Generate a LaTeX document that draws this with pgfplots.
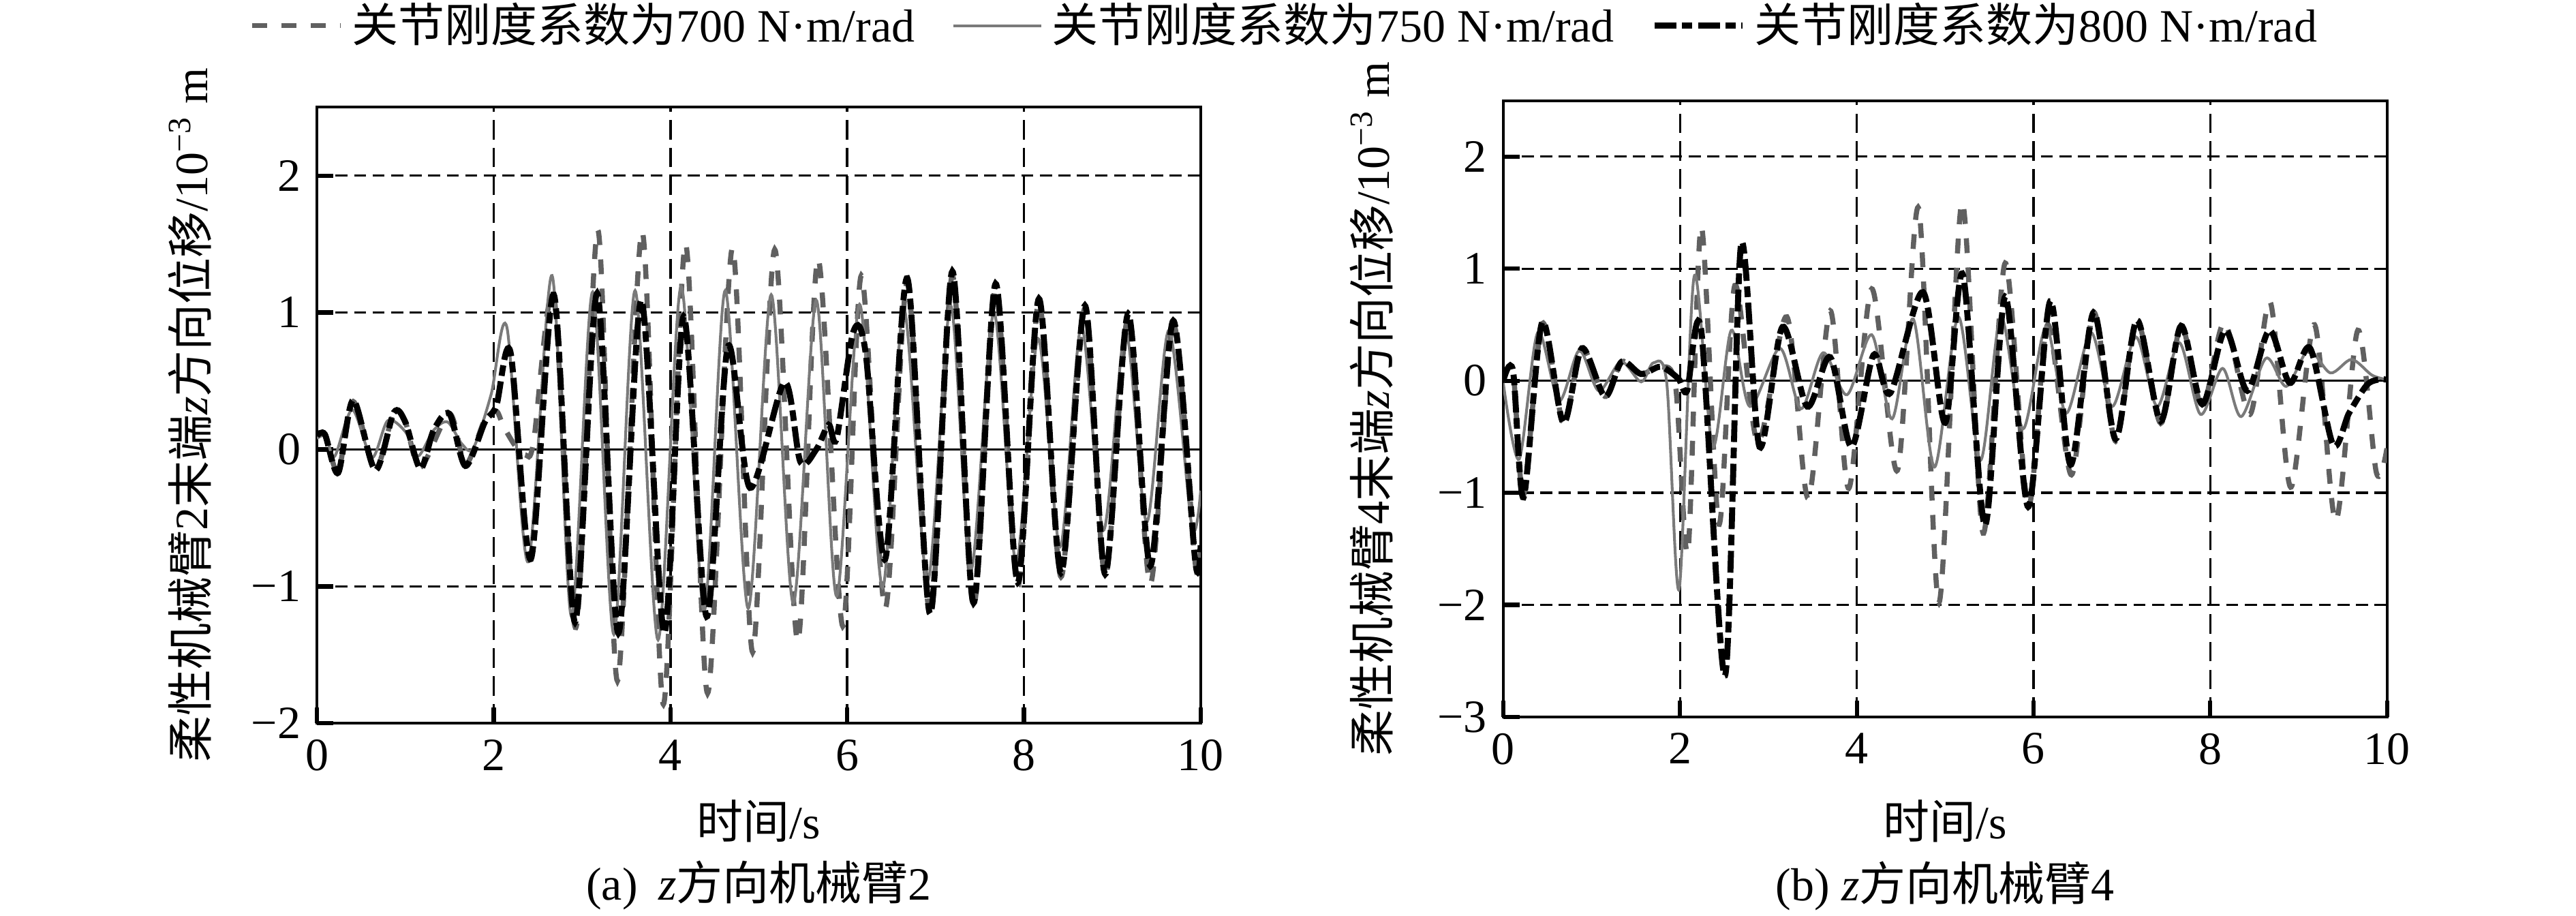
\documentclass[border=0pt]{standalone}
\usepackage{fontspec}
\setmainfont{Liberation Serif}
\newfontfamily\cjk{Noto Sans CJK SC}
\newcommand{\cj}[1]{{\cjk #1}}
\usepackage{pgfplots}
\pgfplotsset{compat=1.18}

\definecolor{gA}{HTML}{606060}
\definecolor{gB}{HTML}{7A7A7A}

\pgfplotsset{
 myaxis/.style={
  scale only axis, width=190.7pt, height=133pt,
  xmin=0, xmax=10, ymax=2.5,
  xtick={0,2,4,6,8,10},
  grid=major,
  x grid style={black, line width=0.5pt, dash pattern=on 4.2pt off 1.8pt},
  y grid style={black, line width=0.5pt, dash pattern=on 2.6pt off 1.4pt},
  x axis line style={line width=0.9pt},
  y axis line style={line width=0.6pt},
  tick style={black, line width=0.9pt},
  major tick length=3.5pt,
  tick align=inside, tick pos=left,
  /pgf/number format/assume math mode=true,
  label style={font=\fontsize{10}{12}\selectfont},
  ticklabel style={font=\fontsize{10}{12}\selectfont},
  xlabel={\cj{时间}/s},
  clip mode=individual,
 },
 s700/.style={gA, line width=1.1pt, dash pattern=on 3.2pt off 3.1pt, smooth},
 s750/.style={gB, line width=0.6pt, smooth},
 s800/.style={black, line width=1.3pt, dash pattern=on 4.7pt off 1.2pt on 2.3pt off 1.2pt, smooth},
}

\begin{document}
\begin{tikzpicture}
\path[use as bounding box] (0,0) rectangle (555.9pt,197.6pt);

% ---------------- (a) ----------------
\begin{axis}[myaxis,
  at={(68.4pt,41.5pt)}, anchor=south west,
  ymin=-2,
  ytick={-2,-1,0,1,2}, yticklabels={−2,−1,0,1,2},
  ylabel={\cj{柔性机械臂}2\cj{末端}\textit{z}\cj{方向位移}/10\textsuperscript{−3} m},
  ylabel style={at={(axis description cs:-0.144,0.5)}, anchor=center},
  xlabel style={at={(axis description cs:0.5,-0.159)}, anchor=center},
  legend columns=3,
  legend style={at={(1.099,1.132)}, anchor=center, draw=none, fill=none,
    font=\fontsize{10}{12}\selectfont,
    /tikz/every even column/.append style={column sep=6pt}},
  legend image code/.code={\draw[#1] (0pt,0pt) -- (19pt,0pt);},
]
\addplot[black, line width=0.5pt, forget plot] coordinates {(0,0) (10,0)};

\addplot[s700] coordinates {
(0,0.10) (0.09,0.11) (0.24,-0.16) (0.41,0.35) (0.66,-0.14) (0.87,0.27) (1.0,0.2)
(1.17,-0.13) (1.50,0.26) (1.68,-0.11) (1.90,0.22) (2.03,0.28) (2.11,0.17) (2.25,0.02)
(2.36,-0.04) (2.45,0.05) (2.68,1.12) (2.93,-1.30) (3.18,1.60) (3.40,-1.69) (3.68,1.59)
(3.92,-1.86) (4.17,1.50) (4.42,-1.78) (4.70,1.47) (4.93,-1.48) (5.18,1.46) (5.44,-1.40)
(5.67,1.39) (5.95,-1.29) (6.16,1.27) (6.43,-1.16) (6.68,1.22) (6.94,-1.22) (7.19,1.27)
(7.43,-1.15) (7.68,1.18) (7.93,-1.0) (8.17,1.08) (8.42,-0.93) (8.69,1.03) (8.92,-0.93)
(9.18,0.97) (9.43,-0.98) (9.69,0.92) (9.94,-0.84) (10,-0.72)};
\addlegendentry{\cj{关节刚度系数为}700 N·m/rad}

\addplot[s750] coordinates {
(0,0.08) (0.10,0.10) (0.20,-0.05) (0.40,0.29) (0.62,-0.06) (0.80,0.21) (1.00,0.13)
(1.14,-0.05) (1.32,0.14) (1.48,0.20) (1.64,0.04) (1.77,0.01) (1.97,0.40) (2.15,0.89)
(2.39,-0.82) (2.66,1.27) (2.88,-1.22) (3.12,1.15) (3.36,-1.35) (3.60,1.16) (3.86,-1.39)
(4.12,1.19) (4.38,-1.18) (4.62,1.16) (4.88,-1.16) (5.14,1.13) (5.39,-1.12) (5.65,1.09)
(5.88,-1.07) (6.14,1.06) (6.40,-1.01) (6.64,1.03) (6.91,-0.96) (7.17,1.05) (7.40,-0.88)
(7.66,1.00) (7.91,-0.82) (8.16,0.81) (8.41,-0.71) (8.65,0.90) (8.90,-0.59) (9.15,0.87)
(9.39,-0.53) (9.64,0.87) (9.90,-0.56) (10,-0.3)};
\addlegendentry{\cj{关节刚度系数为}750 N·m/rad}

\addplot[s800] coordinates {
(0,0.10) (0.09,0.11) (0.24,-0.17) (0.41,0.36) (0.66,-0.15) (0.87,0.27) (1.0,0.2)
(1.17,-0.14) (1.32,0.14) (1.50,0.26) (1.68,-0.12) (1.90,0.20) (2.03,0.32) (2.19,0.71)
(2.42,-0.80) (2.68,1.13) (2.92,-1.26) (3.17,1.14) (3.41,-1.34) (3.67,1.09) (3.93,-1.34)
(4.15,0.97) (4.41,-1.22) (4.65,0.75) (4.90,-0.28) (5.29,0.49) (5.47,-0.09) (5.65,0.0)
(5.79,0.18) (5.88,0.08) (6.07,0.86) (6.21,0.70) (6.43,-0.80) (6.68,1.25) (6.94,-1.20)
(7.19,1.30) (7.43,-1.12) (7.68,1.21) (7.93,-0.97) (8.17,1.10) (8.42,-0.90) (8.69,1.05)
(8.92,-0.91) (9.18,0.99) (9.43,-0.85) (9.69,0.94) (9.94,-0.82) (10,-0.70)};
\addlegendentry{\cj{关节刚度系数为}800 N·m/rad}

\node[font=\fontsize{10}{12}\selectfont, anchor=center, inner sep=0pt] at (axis description cs:0.5,-0.263) {(a)\hspace{0.45em}\textit{z}\cj{方向机械臂}2};
\end{axis}

% ---------------- (b) ----------------
\begin{axis}[myaxis,
  at={(324.4pt,42.9pt)}, anchor=south west,
  ymin=-3,
  ytick={-3,-2,-1,0,1,2}, yticklabels={−3,−2,−1,0,1,2},
  ylabel={\cj{柔性机械臂}4\cj{末端}\textit{z}\cj{方向位移}/10\textsuperscript{−3} m},
  ylabel style={at={(axis description cs:-0.149,0.5)}, anchor=center},
  xlabel style={at={(axis description cs:0.5,-0.169)}, anchor=center},
]
\addplot[black, line width=0.5pt, forget plot] coordinates {(0,0) (10,0)};

\addplot[s700] coordinates {
(0,0) (0.11,0.09) (0.23,-1.02) (0.44,0.51) (0.68,-0.37) (0.89,0.29) (1.15,-0.14)
(1.34,0.17) (1.56,0.06) (1.78,0.125) (1.95,-0.05) (2.09,-1.52) (2.24,1.375) (2.44,-1.28)
(2.62,0.85) (2.88,-0.55) (3.21,0.57) (3.45,-1.05) (3.70,0.625) (3.91,-0.96) (4.17,0.82)
(4.46,-0.80) (4.70,1.54) (4.93,-1.98) (5.19,1.59) (5.43,-1.36) (5.68,1.05) (5.94,-1.12)
(6.16,0.50) (6.43,-0.84) (6.68,0.61) (6.93,-0.54) (7.17,0.54) (7.44,-0.38) (7.67,0.49)
(7.91,-0.23) (8.16,0.52) (8.45,-0.30) (8.68,0.70) (8.91,-0.95) (9.18,0.50) (9.42,-1.25)
(9.67,0.45) (9.88,-0.82) (10,-0.6)};

\addplot[s750] coordinates {
(0,-0.02) (0.18,-0.70) (0.39,0.43) (0.63,-0.18) (0.86,0.27) (1.08,-0.09) (1.33,0.17)
(1.56,-0.01) (1.70,0.16) (1.85,-0.02) (1.99,-1.86) (2.16,0.93) (2.37,-0.59) (2.58,0.45)
(2.79,-0.23) (3.13,0.29) (3.37,-0.25) (3.62,0.25) (3.89,-0.125) (4.17,0.41) (4.40,-0.34)
(4.64,0.55) (4.88,-0.77) (5.15,0.57) (5.40,-0.71) (5.63,0.57) (5.88,-0.43) (6.14,0.48)
(6.37,-0.29) (6.65,0.43) (6.89,-0.23) (7.16,0.39) (7.40,-0.23) (7.65,0.34) (7.89,-0.30)
(8.14,0.11) (8.35,-0.32) (8.63,0.20) (8.86,-0.05) (9.11,0.27) (9.36,0.07) (9.60,0.19)
(9.83,0.05) (10,0.01)};

\addplot[s800] coordinates {
(0,0) (0.11,0.09) (0.23,-1.04) (0.44,0.52) (0.68,-0.375) (0.89,0.29) (1.15,-0.14)
(1.34,0.17) (1.56,0.06) (1.78,0.125) (1.98,0.02) (2.08,-0.09) (2.24,0.45) (2.51,-2.63)
(2.69,1.21) (2.90,-0.59) (3.16,0.48) (3.44,-0.23) (3.70,0.21) (3.94,-0.59) (4.19,0.23)
(4.38,-0.11) (4.75,0.79) (5.0,-0.375) (5.20,0.95) (5.45,-1.29) (5.68,0.75) (5.94,-1.125)
(6.19,0.71) (6.42,-0.75) (6.68,0.61) (6.93,-0.52) (7.17,0.54) (7.44,-0.36) (7.67,0.49)
(7.91,-0.21) (8.17,0.45) (8.42,-0.09) (8.67,0.45) (8.90,-0.02) (9.13,0.29) (9.39,-0.57)
(9.57,-0.29) (9.77,-0.04) (9.90,0.01) (10,0.01)};

\node[font=\fontsize{10}{12}\selectfont, anchor=center, inner sep=0pt] at (axis description cs:0.5,-0.274) {(b)\hspace{0.25em}\textit{z}\cj{方向机械臂}4};
\end{axis}
\end{tikzpicture}
\end{document}
